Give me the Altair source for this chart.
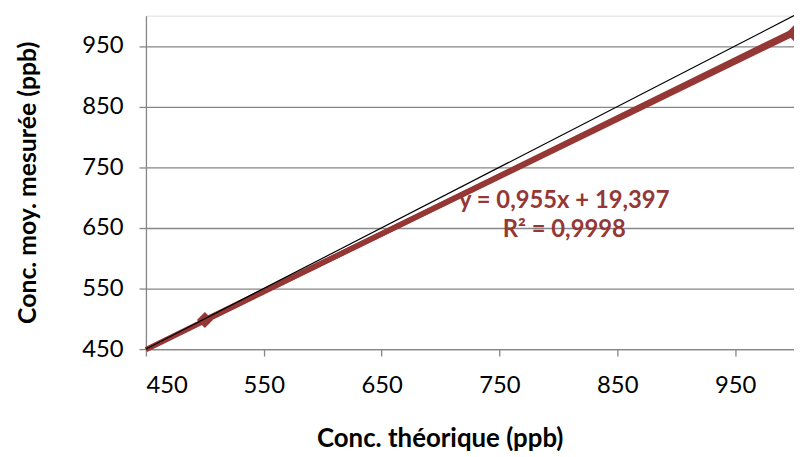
import altair as alt
import pandas as pd

# data
conc_theo = [500, 1000]
conc_mes = [498, 971]
trend_slope = 0.955
trend_intercept = 19.397
trend_x = [450, 1000]
ident_x = [450, 1000]
ticks = [450, 550, 650, 750, 850, 950]
eq_text = ["y = 0,955x + 19,397", "R² = 0,9998"]
eq_x = [805, 805]
eq_y = [695, 646]

RED = "#953735"
FONT = "Lato"

pts = pd.DataFrame({"x": conc_theo, "y": conc_mes})
trend = pd.DataFrame({"x": trend_x, "y": [trend_slope * v + trend_intercept for v in trend_x]})
ident = pd.DataFrame({"x": ident_x, "y": ident_x})
labels = pd.DataFrame({"t": eq_text, "x": eq_x, "y": eq_y})

xs = alt.Scale(domain=[450, 1000], nice=False, zero=False)
ys = alt.Scale(domain=[450, 1000], nice=False, zero=False)

xaxis = alt.Axis(values=ticks, title="Conc. théorique (ppb)", grid=False,
                 domainColor="#868686", domainWidth=1.3, tickColor="#868686", tickSize=7,
                 tickWidth=1.3, labelFontSize=24, labelFont=FONT, labelColor="black",
                 labelPadding=18, titleFont=FONT, titleFontSize=26, titleFontWeight="bold",
                 titleColor="black", titlePadding=28, titleX=296)
yaxis = alt.Axis(values=ticks, title="Conc. moy. mesurée (ppb)", grid=True, gridColor="#868686",
                 gridWidth=1.3, domainColor="#868686", domainWidth=1.3, tickColor="#868686",
                 tickSize=7, tickWidth=1.3, labelFontSize=24, labelFont=FONT, labelColor="black",
                 labelPadding=16, titleFont=FONT, titleFontSize=25, titleFontWeight="bold",
                 titleColor="black", titlePadding=42)

base_x = alt.X("x:Q", scale=xs, axis=xaxis)
base_y = alt.Y("y:Q", scale=ys, axis=yaxis)

trend_line = alt.Chart(trend).mark_line(color=RED, strokeWidth=5.5).encode(x=base_x, y=base_y)
series_line = alt.Chart(pts).mark_line(color=RED, strokeWidth=5.5).encode(x="x:Q", y="y:Q")
points = alt.Chart(pts).mark_point(shape="diamond", filled=True, color=RED, size=260, opacity=1).encode(x="x:Q", y="y:Q")
ident_line = alt.Chart(ident).mark_line(color="black", strokeWidth=1.2).encode(x="x:Q", y="y:Q")
text = alt.Chart(labels).mark_text(font=FONT, fontSize=24, fontWeight="bold", color=RED, align="center", baseline="middle").encode(x="x:Q", y="y:Q", text="t:N")

chart = alt.layer(trend_line, series_line, points, ident_line, text).properties(
    width=653, height=336,
    autosize=alt.AutoSizeParams(type="none"),
    padding={"left": 139, "top": 6, "right": 0, "bottom": 103},
).configure_view(stroke=None).configure(background="white")

chart.save("out.html", embed_options={"renderer": "svg", "actions": False})
